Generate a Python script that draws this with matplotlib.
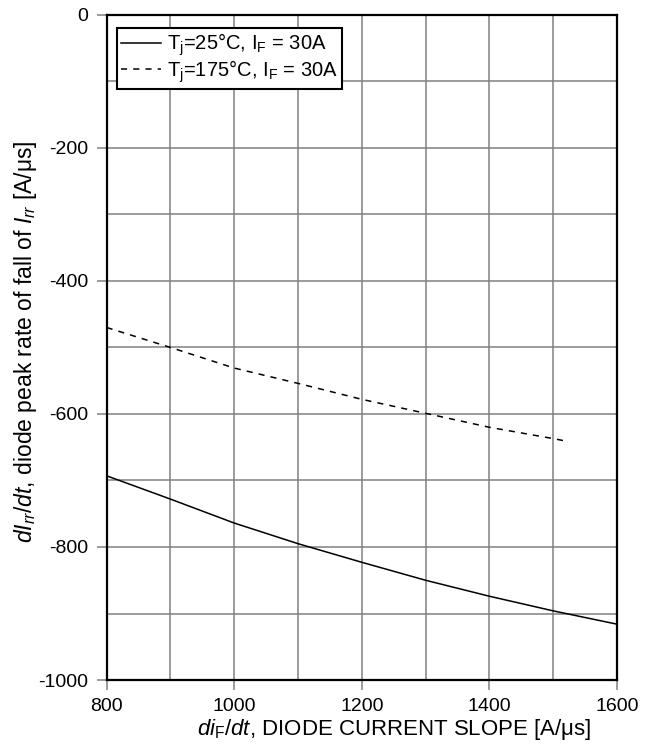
import matplotlib
matplotlib.use('Agg')
import matplotlib.pyplot as plt

plt.rcParams['font.family'] = ['Liberation Sans', 'DejaVu Sans']
plt.rcParams['mathtext.fontset'] = 'custom'
plt.rcParams['mathtext.rm'] = 'Liberation Sans'
plt.rcParams['mathtext.it'] = 'Liberation Sans:italic'
plt.rcParams['axes.unicode_minus'] = False

x_25 = [800, 900, 1000, 1100, 1200, 1300, 1400, 1500, 1600]
y_25 = [-693, -728, -764, -795, -823, -850, -874, -896, -916]
x_175 = [800, 900, 1000, 1100, 1200, 1300, 1400, 1500, 1516]
y_175 = [-470, -500, -531, -554, -578, -599, -620, -637, -640]

fig = plt.figure(figsize=(6.52, 7.44), dpi=100)
ax = fig.add_axes([0.1636, 0.086, 0.7825, 0.894])

ax.plot(x_25, y_25, color='black', lw=1.1, label=r'T$_\mathrm{j}$=25°C, I$_\mathrm{F}$ = 30A')
ax.plot(x_175, y_175, color='black', lw=1.1, ls=(0, (4, 4)),
        label=r'T$_\mathrm{j}$=175°C, I$_\mathrm{F}$ = 30A')

ax.set_xlim(800, 1600)
ax.set_ylim(-1000, 0)
ax.set_xticks(range(800, 1601, 200))
ax.set_yticks(range(-1000, 1, 200))
ax.set_xticks(range(900, 1600, 200), minor=True)
ax.set_yticks(range(-900, 0, 200), minor=True)
ax.grid(True, which='both', color='#808080', lw=1.1)
ax.tick_params(which='major', direction='out', length=7, width=1.1, color='#808080',
               labelsize=14, pad=6)
ax.tick_params(which='minor', length=0)
for s in ax.spines.values():
    s.set_color('black')
    s.set_linewidth(1.6)

ax.set_xlabel(r'$di_\mathrm{F}/dt$, DIODE CURRENT SLOPE [A/μs]', fontsize=16)
ax.xaxis.set_label_coords(0.563, -0.056)
ax.set_ylabel(r'$dI_{rr}/dt$, diode peak rate of fall of $I_{rr}$ [A/μs]', fontsize=16.5)
ax.yaxis.set_label_coords(-0.132, 0.508)

leg = ax.legend(loc='upper left', bbox_to_anchor=(0.0196, 0.981), fontsize=14.5, fancybox=False,
                framealpha=1, edgecolor='black', handlelength=2.0, handletextpad=0.3,
                borderpad=0.2, labelspacing=0.0, borderaxespad=0)
leg.get_frame().set_linewidth(1.5)

fig.savefig('out.png', dpi=100)
